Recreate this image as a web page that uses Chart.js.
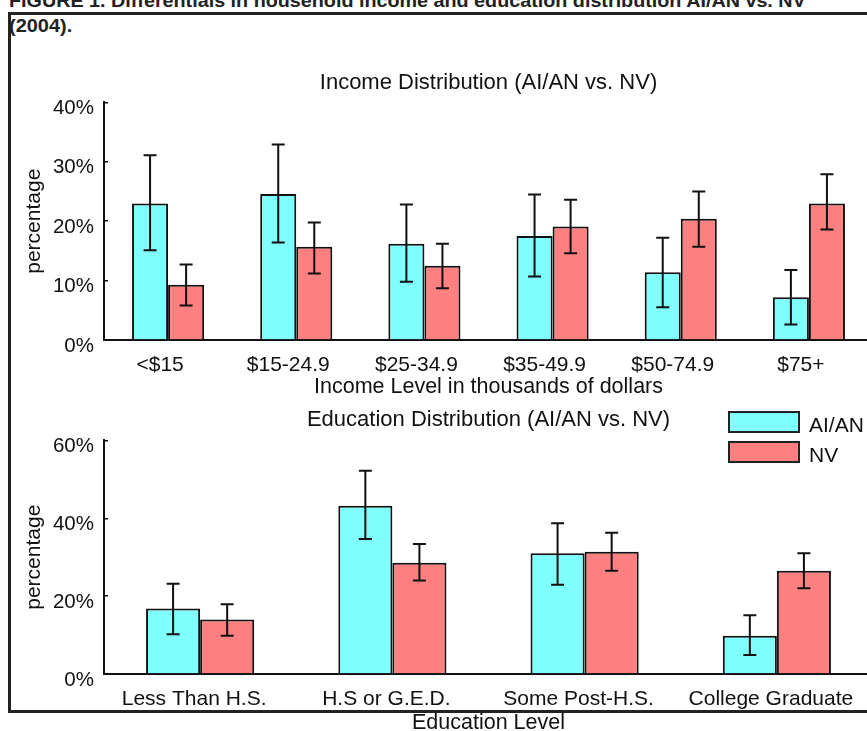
<!DOCTYPE html>
<html>
<head>
<meta charset="utf-8">
<script src="https://cdn.jsdelivr.net/npm/chart.js@4.4.0/dist/chart.umd.min.js"></script>
<style>
html, body { margin:0; padding:0; background:#fff; overflow:hidden; width:867px; height:731px; }
body { position:relative; font-family:"Liberation Sans", Arial, sans-serif; }
.cap { position:absolute; left:9px; font-weight:bold; font-size:19px; line-height:19px; white-space:nowrap; color:#222; transform-origin:0 0; }
#cap1 { top:-9px; }
#cap2 { top:16px; }
#box { position:absolute; left:8px; top:12px; width:880px; height:695px; border-top:3px solid #222; border-left:3px solid #222; border-bottom:3px solid #222; pointer-events:none; z-index:3; }
.wrap { position:absolute; left:0; width:900px; }
#topWrap { top:60px; height:340px; }
#botWrap { top:395px; height:350px; }
#legend { position:absolute; left:728px; top:411px; font-size:21px; color:#111; z-index:2; }
.item { position:absolute; left:0; width:140px; height:22px; }
.sw { position:absolute; left:0; top:0; width:68px; height:18px; border:2px solid #222; }
.lbl { position:absolute; left:81px; top:2px; white-space:nowrap; }
</style>
</head>
<body>
<div class="cap" id="cap1">FIGURE 1. Differentials in household income and education distribution AI/AN vs. NV</div>
<div class="cap" id="cap2">(2004).</div>

<div class="wrap" id="topWrap"><canvas id="incomeChart"></canvas></div>
<div class="wrap" id="botWrap"><canvas id="eduChart"></canvas></div>
<div id="legend"></div>
<div id="box"></div>

<script>
// series
var seriesNames = ["AI/AN", "NV"];
var seriesColors = ["#80FFFF", "#FF8080"];

// income distribution (percent)
var incomeCats = ["<$15", "$15-24.9", "$25-34.9", "$35-49.9", "$50-74.9", "$75+"];
var incomeAian   = [23.0, 24.6, 16.2, 17.5, 11.4, 7.2];
var incomeAianLo = [15.1, 16.4, 9.8, 10.7, 5.5, 2.6];
var incomeAianHi = [31.1, 32.9, 22.8, 24.5, 17.2, 11.8];
var incomeNv     = [9.3, 15.7, 12.5, 19.1, 20.4, 23.0];
var incomeNvLo   = [5.8, 11.2, 8.7, 14.6, 15.7, 18.6];
var incomeNvHi   = [12.7, 19.8, 16.2, 23.6, 25.0, 27.9];
var incomeTicks  = [0, 10, 20, 30, 40];

// education distribution (percent)
var eduCats = ["Less Than H.S.", "H.S or G.E.D.", "Some Post-H.S.", "College Graduate"];
var eduAian   = [16.8, 43.2, 31.0, 9.8];
var eduAianLo = [10.2, 34.7, 22.9, 4.9];
var eduAianHi = [23.2, 52.2, 38.7, 15.1];
var eduNv     = [14.0, 28.6, 31.4, 26.5];
var eduNvLo   = [9.8, 24.0, 26.5, 22.0];
var eduNvHi   = [17.9, 33.4, 36.3, 31.0];
var eduTicks  = [0, 20, 40, 60];

Chart.defaults.font.family = '"Liberation Sans", Arial, sans-serif';
Chart.defaults.color = '#111';

// scale caption lines to the width they take in the figure
function fitWidth(id, w) {
  var el = document.getElementById(id);
  el.style.transform = 'scaleX(' + (w / el.offsetWidth) + ')';
}
fitWidth('cap1', 797);
fitWidth('cap2', 63);

var errorBars = {
  id: 'errorBars',
  afterDatasetsDraw: function(chart, args, opts) {
    var ctx = chart.ctx, y = chart.scales.y;
    ctx.save();
    ctx.strokeStyle = '#111';
    ctx.lineWidth = 2;
    chart.data.datasets.forEach(function(ds, i) {
      chart.getDatasetMeta(i).data.forEach(function(bar, j) {
        var t = y.getPixelForValue(ds.errHi[j]);
        var b = y.getPixelForValue(ds.errLo[j]);
        ctx.beginPath();
        ctx.moveTo(bar.x, t); ctx.lineTo(bar.x, b);
        ctx.moveTo(bar.x - opts.cap, t); ctx.lineTo(bar.x + opts.cap, t);
        ctx.moveTo(bar.x - opts.cap, b); ctx.lineTo(bar.x + opts.cap, b);
        ctx.stroke();
      });
    });
    ctx.restore();
  }
};

function makeChart(id, cats, vals, lows, highs, ticks, c) {
  var datasets = seriesNames.map(function(name, i) {
    return {
      label: name,
      data: vals[i],
      errLo: lows[i],
      errHi: highs[i],
      backgroundColor: seriesColors[i],
      borderColor: '#111',
      borderWidth: 2,
      categoryPercentage: 0.5625,
      barPercentage: 1
    };
  });
  return new Chart(document.getElementById(id), {
    type: 'bar',
    data: { labels: cats, datasets: datasets },
    plugins: [errorBars],
    options: {
      responsive: true,
      maintainAspectRatio: false,
      animation: false,
      layout: { padding: { left: 0, right: 27, top: 0, bottom: 0 } },
      plugins: {
        legend: { display: false },
        tooltip: { enabled: false },
        errorBars: { cap: 6.5 },
        title: {
          display: true,
          text: c.title,
          fullSize: false,
          color: '#111',
          font: { size: 22, weight: 'normal' },
          padding: { top: c.titleTop, bottom: c.titleBottom }
        }
      },
      scales: {
        x: {
          grid: { display: false, drawTicks: false },
          border: { color: '#111', width: 2 },
          ticks: { font: { size: 21 }, color: '#111', padding: 13, labelOffset: c.xOffset, maxRotation: 0, autoSkip: false },
          title: { display: true, text: c.xTitle, color: '#111', font: { size: 21.5 }, padding: { top: 0, bottom: c.xTitleBottom } },
          afterFit: function(s) { s.height = c.xHeight; }
        },
        y: {
          min: ticks[0],
          max: ticks[ticks.length - 1],
          afterBuildTicks: function(s) { s.ticks = ticks.map(function(v) { return { value: v }; }); },
          grid: { display: true, drawOnChartArea: false, drawTicks: true, tickLength: -4, color: '#111', lineWidth: 1.5 },
          border: { color: '#111', width: 2 },
          ticks: { font: { size: 20.5 }, color: '#111', padding: 14, labelOffset: 6, callback: function(v) { return v + '%'; } },
          title: { display: true, text: 'percentage', color: '#111', font: { size: 21 }, padding: { top: 22, bottom: 0 } },
          afterFit: function(s) { s.width = 104; }
        }
      }
    }
  });
}

makeChart('incomeChart', incomeCats,
  [incomeAian, incomeNv], [incomeAianLo, incomeNvLo], [incomeAianHi, incomeNvHi], incomeTicks,
  { title: 'Income Distribution (AI/AN vs. NV)', titleTop: 10, titleBottom: 6,
    xTitle: 'Income Level in thousands of dollars', xTitleBottom: 0, xHeight: 60, xOffset: -8 });

makeChart('eduChart', eduCats,
  [eduAian, eduNv], [eduAianLo, eduNvLo], [eduAianHi, eduNvHi], eduTicks,
  { title: 'Education Distribution (AI/AN vs. NV)', titleTop: 12, titleBottom: 7,
    xTitle: 'Education Level', xTitleBottom: 9, xHeight: 71, xOffset: -6 });

// legend
var legend = document.getElementById('legend');
seriesNames.forEach(function(name, i) {
  var item = document.createElement('div');
  item.className = 'item';
  item.style.top = (i * 30) + 'px';
  item.innerHTML = '<div class="sw" style="background:' + seriesColors[i] + '"></div><div class="lbl">' + name + '</div>';
  legend.appendChild(item);
});
</script>
</body>
</html>
